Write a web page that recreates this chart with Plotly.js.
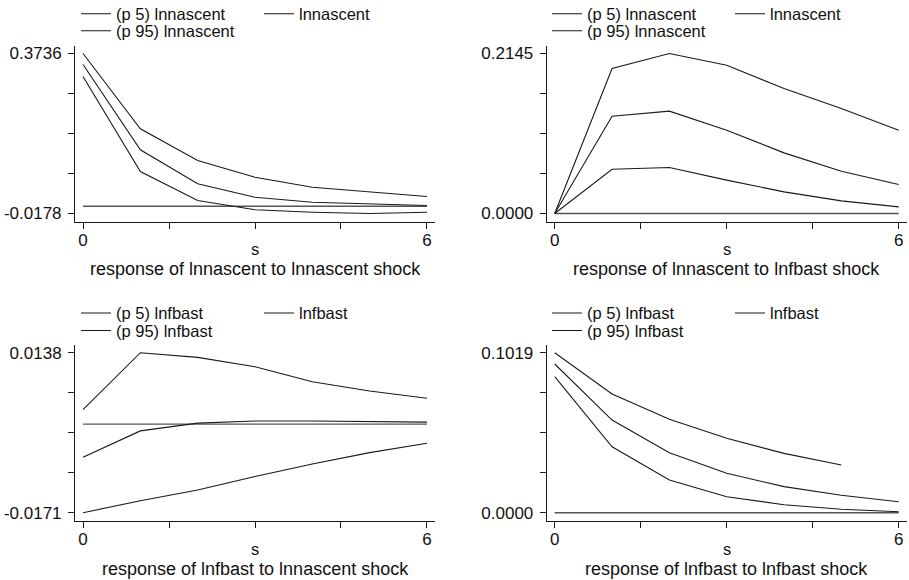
<!DOCTYPE html>
<html>
<head>
<meta charset="utf-8">
<script src="https://cdn.plot.ly/plotly-3.0.1.min.js"></script>
<style>html,body{margin:0;padding:0;background:#fff;}#chart{width:909px;height:580px;}</style>
</head>
<body>
<div id="chart"></div>
<script>
// ---- data ----
const steps = [0, 1, 2, 3, 4, 5, 6];
const zeroLine = [0, 0, 0, 0, 0, 0, 0];

// response of lnnascent to lnnascent shock
const p1Lo  = [0.3172, 0.0849, 0.0139, -0.0088, -0.0147, -0.0178, -0.0147];
const p1Mid = [0.3466, 0.1380, 0.0548, 0.0220, 0.0098, 0.0059, 0.0017];
const p1Hi  = [0.3736, 0.1893, 0.1118, 0.0709, 0.0465, 0.0342, 0.0237];

// response of lnnascent to lnfbast shock
const p2Lo  = [0, 0.0594, 0.0617, 0.0447, 0.0290, 0.0169, 0.0089];
const p2Mid = [0, 0.1304, 0.1372, 0.1117, 0.0813, 0.0567, 0.0389];
const p2Hi  = [0, 0.1944, 0.2145, 0.1988, 0.1676, 0.1408, 0.1117];

// response of lnfbast to lnnascent shock
const p3Lo  = [-0.0171, -0.0148, -0.0127, -0.0101, -0.0077, -0.0055, -0.0037];
const p3Mid = [-0.0064, -0.0013, 0.0002, 0.0006, 0.0006, 0.0005, 0.0004];
const p3Hi  = [0.0028, 0.0138, 0.0129, 0.0111, 0.0082, 0.0064, 0.0050];

// response of lnfbast to lnfbast shock
const p4Lo  = [0.0866, 0.0420, 0.0208, 0.0102, 0.0051, 0.0022, 0.0006];
const p4Mid = [0.0947, 0.0590, 0.0382, 0.0251, 0.0166, 0.0111, 0.0070];
const p4Hi  = [0.1019, 0.0756, 0.0595, 0.0474, 0.0378, 0.0304, null];

const responseVars = ['lnnascent', 'lnnascent', 'lnfbast', 'lnfbast'];
const impulseVars  = ['lnnascent', 'lnfbast', 'lnnascent', 'lnfbast'];
const xTickVals = [0, 1.5, 3, 4.5, 6];
const xTickText = ['0', '', '', '', '6'];
const xTitle = 's';

// ---- build ----
const FONT = '"Liberation Sans", Arial, Helvetica, sans-serif';
const INK = '#111111';
const LINE = '#1a1a1a';
const W = 909, H = 580;

const panels = [
  {lo: p1Lo, mid: p1Mid, hi: p1Hi},
  {lo: p2Lo, mid: p2Mid, hi: p2Hi},
  {lo: p3Lo, mid: p3Mid, hi: p3Hi},
  {lo: p4Lo, mid: p4Mid, hi: p4Hi}
];

// geometry in pixels
const colX = [[75, 435], [546.7, 906.7]];
const rowY = [[45.5, 221.5], [344.7, 520.7]]; // top, bottom of axis box
const legendRows = [[14, 31], [313.3, 330.7]];
const legendLeft = [74, 545];

const px = v => v / W;
const py = v => (H - v) / H;

const traces = [];
const layout = {
  width: W, height: H,
  margin: {l: 0, r: 0, t: 0, b: 0, autoexpand: false},
  paper_bgcolor: '#ffffff',
  plot_bgcolor: '#ffffff',
  font: {family: FONT, color: INK, size: 16},
  showlegend: true,
  annotations: []
};

panels.forEach((p, i) => {
  const r = Math.floor(i / 2), c = i % 2;
  const k = i + 1;
  const xa = 'x' + (k === 1 ? '' : k), ya = 'y' + (k === 1 ? '' : k);
  const xName = 'xaxis' + (k === 1 ? '' : k), yName = 'yaxis' + (k === 1 ? '' : k);
  const legA = 'legend' + (2 * i + 1 === 1 ? '' : (2 * i + 1));
  const legB = 'legend' + (2 * i + 2);
  const v = responseVars[i];

  const all = [].concat(p.lo, p.mid, p.hi, zeroLine).filter(d => d !== null);
  const ymin = Math.min.apply(null, all), ymax = Math.max.apply(null, all);
  const span = ymax - ymin;
  const yTicks = [0, 1, 2, 3, 4].map(j => ymin + span * j / 4);
  const yText = yTicks.map((t, j) => (j === 0 || j === 4) ? t.toFixed(4) : '');

  const base = {x: steps, xaxis: xa, yaxis: ya, type: 'scatter', mode: 'lines',
                line: {color: LINE, width: 1.1}, hoverinfo: 'skip'};
  traces.push(Object.assign({}, base, {y: zeroLine, showlegend: false,
                line: {color: '#555555', width: 1.4}}));
  traces.push(Object.assign({}, base, {y: p.lo, name: '(p 5) ' + v, legend: legA}));
  traces.push(Object.assign({}, base, {y: p.mid, name: v, legend: legA}));
  traces.push(Object.assign({}, base, {y: p.hi, name: '(p 95) ' + v, legend: legB}));

  layout[xName] = {
    domain: [px(colX[c][0]), px(colX[c][1])],
    anchor: ya,
    range: [-0.14, 6.14],
    tickmode: 'array', tickvals: xTickVals, ticktext: xTickText,
    ticks: 'outside', ticklen: 6, tickwidth: 1, tickcolor: LINE,
    showline: true, linecolor: LINE, linewidth: 1,
    showgrid: false, zeroline: false,
    tickfont: {size: 17, family: FONT, color: INK},
    ticklabelstandoff: -3,
    automargin: false,
    fixedrange: true
  };
  layout[yName] = {
    domain: [py(rowY[r][1]), py(rowY[r][0])],
    anchor: xa,
    range: [ymin - span * 0.05, ymax + span * 0.05],
    tickmode: 'array', tickvals: yTicks, ticktext: yText,
    ticks: 'outside', ticklen: 6, tickwidth: 1, tickcolor: LINE,
    showline: true, linecolor: LINE, linewidth: 1,
    showgrid: false, zeroline: false,
    tickfont: {size: 17, family: FONT, color: INK},
    ticklabelstandoff: 3,
    automargin: false,
    fixedrange: true
  };

  const legCommon = {
    orientation: 'h', xanchor: 'left', yanchor: 'middle',
    bgcolor: 'rgba(0,0,0,0)', borderwidth: 0,
    font: {size: 16.5, family: FONT, color: INK},
    itemclick: false, itemdoubleclick: false
  };
  layout[legA] = Object.assign({}, legCommon, {
    x: px(legendLeft[c] + 2), y: py(legendRows[r][0]),
    entrywidth: 138, entrywidthmode: 'pixels'
  });
  layout[legB] = Object.assign({}, legCommon, {
    x: px(legendLeft[c] + 2), y: py(legendRows[r][1])
  });

  const cx = (colX[c][0] + colX[c][1]) / 2;
  // x-axis title
  layout.annotations.push({
    xref: 'paper', yref: 'paper', x: px(cx), y: py(r === 0 ? 249 : 548.5),
    xanchor: 'center', yanchor: 'middle', showarrow: false,
    text: xTitle,
    font: {size: 16.5, family: FONT, color: INK}
  });
  // panel subtitle
  layout.annotations.push({
    xref: 'paper', yref: 'paper', x: px(cx), y: py(r === 0 ? 269 : 568.5),
    xanchor: 'center', yanchor: 'middle', showarrow: false,
    text: 'response of ' + v + ' to ' + impulseVars[i] + ' shock',
    font: {size: 18, family: FONT, color: INK}
  });
});

Plotly.newPlot('chart', traces, layout, {displayModeBar: false, staticPlot: true});
</script>
</body>
</html>
